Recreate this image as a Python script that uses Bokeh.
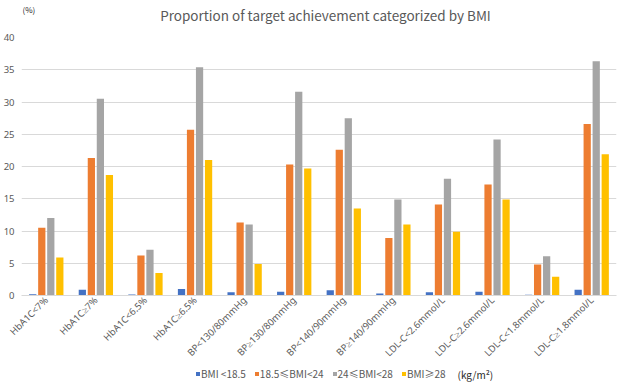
from math import pi
from bokeh.plotting import figure
from bokeh.layouts import column
from bokeh.models import (FactorRange, Range1d, Legend, LegendItem, Label,
                          FixedTicker, ColumnDataSource)
from bokeh.transform import dodge
from bokeh.embed import file_html
from bokeh.resources import INLINE

categories = ["HbA1C<7%", "HbA1C≥7%", "HbA1C<6.5%", "HbA1C≥6.5%",
              "BP<130/80mmHg", "BP≥130/80mmHg", "BP<140/90mmHg", "BP≥140/90mmHg",
              "LDL-C<2.6mmol/L", "LDL-C≥2.6mmol/L", "LDL-C<1.8mmol/L", "LDL-C≥1.8mmol/L"]
bmi_under_18_5 = [0.2, 0.9, 0.15, 1.0, 0.5, 0.6, 0.8, 0.3, 0.5, 0.6, 0.1, 0.9]
bmi_18_5_24 = [10.5, 21.3, 6.2, 25.7, 11.3, 20.3, 22.6, 8.9, 14.1, 17.2, 4.8, 26.6]
bmi_24_28 = [12.0, 30.5, 7.1, 35.4, 11.0, 31.6, 27.5, 14.9, 18.1, 24.2, 6.1, 36.3]
bmi_over_28 = [5.9, 18.7, 3.5, 21.0, 4.9, 19.7, 13.5, 11.0, 9.9, 14.9, 2.9, 21.9]
series_labels = ["BMI <18.5", "18.5≤BMI<24", "24≤BMI<28", "BMI≥28"]
title_text = "Proportion of target achievement categorized by BMI"
unit_label = "(kg/m²)"
y_unit_label = "(%)"
y_ticks = [0, 5, 10, 15, 20, 25, 30, 35, 40]

colors = ["#4472C4", "#ED7D31", "#A5A5A5", "#FFC000"]
offsets = [-0.273, -0.091, 0.091, 0.273]
text_color = "#595959"
font = "Noto Sans CJK SC"
font2 = "Noto Sans"
keys = ["s0", "s1", "s2", "s3"]

source = ColumnDataSource(dict(cat=categories, s0=bmi_under_18_5, s1=bmi_18_5_24,
                               s2=bmi_24_28, s3=bmi_over_28))
xr = FactorRange(*categories)

def bare(fig):
    fig.outline_line_color = None
    fig.xgrid.grid_line_color = None
    fig.ygrid.grid_line_color = None

# header with title and y unit
head = figure(width=620, height=24, x_range=Range1d(0, 1), y_range=Range1d(0, 1),
              x_axis_location=None, y_axis_location=None,
              output_backend="svg", toolbar_location=None,
              min_border=0, min_border_left=0, min_border_right=0,
              min_border_top=0, min_border_bottom=0)
bare(head)
head.add_layout(Label(x=304, y=10, x_units="screen", y_units="screen", text=title_text,
                      text_align="center", text_baseline="middle",
                      text_font=font, text_font_size="13.5px", text_color=text_color))
head.add_layout(Label(x=1, y=15, x_units="screen", y_units="screen", text=y_unit_label,
                      text_align="left", text_baseline="middle",
                      text_font=font, text_font_size="8px", text_color="#262626"))

# main chart
p = figure(x_range=xr, y_range=Range1d(0, 40), width=620, frame_height=258,
           output_backend="svg", toolbar_location=None,
           min_border_left=16, min_border_right=4, min_border_top=13, min_border_bottom=0)
p.outline_line_color = None
for i, key in enumerate(keys):
    p.vbar(x=dodge("cat", offsets[i], range=xr), top=key, width=0.146,
           source=source, fill_color=colors[i], line_color=None)

p.xgrid.grid_line_color = None
p.ygrid.grid_line_color = "#D9D9D9"
p.yaxis.ticker = FixedTicker(ticks=y_ticks)
for ax in (p.xaxis[0], p.yaxis[0]):
    ax.axis_line_color = None
    ax.major_tick_line_color = None
    ax.minor_tick_line_color = None
    ax.major_tick_out = 0
    ax.minor_tick_out = 0
    ax.major_label_text_color = text_color
    ax.major_label_text_font = font2
p.xaxis.axis_line_color = "#D9D9D9"
p.yaxis.major_label_text_font_size = "9.5px"
p.yaxis.major_label_standoff = 7
p.xaxis.major_label_text_font_size = "9.5px"
p.xaxis.major_label_orientation = pi / 4
p.xaxis.major_label_standoff = 3

# legend strip (its bar renderers are hidden; only the legend shows)
leg = figure(width=620, height=16, x_range=xr, y_range=Range1d(0, 40),
             x_axis_location=None, y_axis_location=None,
             output_backend="svg", toolbar_location=None,
             min_border=0, min_border_left=0, min_border_right=0,
             min_border_top=0, min_border_bottom=0)
bare(leg)
items = []
for i, key in enumerate(keys):
    r = leg.vbar(x=dodge("cat", offsets[i], range=xr), top=key, width=0.146,
                 source=source, fill_color=colors[i], line_color=None, visible=False)
    items.append(LegendItem(label=series_labels[i], renderers=[r]))
legend = Legend(items=items, orientation="horizontal", location=(174, 1),
                glyph_width=5, glyph_height=5, label_standoff=1, spacing=8,
                label_height=12, label_width=10,
                label_text_font=font, label_text_font_size="10px",
                label_text_color=text_color, border_line_color=None,
                background_fill_alpha=0, inactive_fill_alpha=0,
                padding=1, margin=0)
leg.add_layout(legend, "center")
leg.add_layout(Label(x=436, y=8, x_units="screen", y_units="screen", text=unit_label,
                     text_align="left", text_baseline="middle",
                     text_font=font, text_font_size="10px", text_color="#262626"))

layout = column(head, p, leg, spacing=0)
open("out.html", "w").write(file_html(layout, INLINE))
